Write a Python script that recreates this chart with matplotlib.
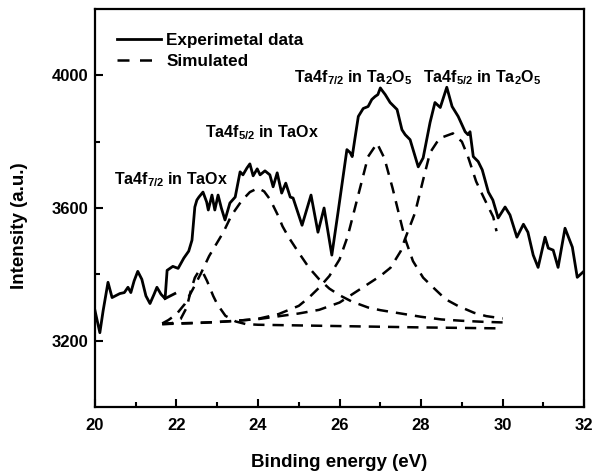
import numpy as np
import matplotlib
matplotlib.use('Agg')
import matplotlib.pyplot as plt

plt.rcParams['font.family'] = ['Liberation Sans', 'DejaVu Sans']
plt.rcParams['font.weight'] = 'bold'
plt.rcParams['mathtext.fontset'] = 'custom'
plt.rcParams['mathtext.rm'] = 'Liberation Sans:bold'
plt.rcParams['mathtext.default'] = 'rm'

exp_x = [20.00, 20.12, 20.20, 20.32, 20.42, 20.61, 20.72, 20.81, 20.88, 20.96,
         21.05, 21.15, 21.25, 21.35, 21.45, 21.52, 21.62, 21.72, 21.77, 21.91,
         22.04, 22.18, 22.30, 22.38, 22.45, 22.50, 22.55, 22.65, 22.74, 22.78,
         22.87, 22.94, 23.02, 23.10, 23.19, 23.31, 23.44, 23.56, 23.63, 23.73,
         23.80, 23.88, 23.98, 24.05, 24.17, 24.29, 24.37, 24.47, 24.58, 24.68,
         24.79, 24.86, 25.08, 25.30, 25.47, 25.62, 25.81, 25.96, 26.18, 26.26,
         26.31, 26.38, 26.46, 26.58, 26.70, 26.79, 26.87, 26.94, 27.00, 27.04,
         27.12, 27.24, 27.41, 27.53, 27.61, 27.73, 27.93, 28.05, 28.22, 28.34,
         28.47, 28.63, 28.76, 28.91, 29.08, 29.15, 29.20, 29.28, 29.40, 29.50,
         29.65, 29.76, 29.89, 30.06, 30.18, 30.35, 30.51, 30.62, 30.75, 30.87,
         31.04, 31.12, 31.24, 31.36, 31.53, 31.71, 31.83, 32.00]
exp_y = [3291, 3224, 3290, 3376, 3330, 3342, 3345, 3361, 3345, 3380,
         3409, 3385, 3335, 3312, 3340, 3361, 3340, 3327, 3412, 3424,
         3418, 3449, 3470, 3503, 3603, 3624, 3633, 3648, 3618, 3594,
         3639, 3594, 3639, 3600, 3564, 3615, 3633, 3709, 3700, 3721,
         3733, 3697, 3718, 3700, 3712, 3700, 3664, 3706, 3645, 3675,
         3633, 3630, 3548, 3639, 3527, 3600, 3458, 3585, 3776, 3767,
         3755, 3812, 3876, 3900, 3906, 3927, 3936, 3942, 3962, 3955,
         3942, 3918, 3897, 3836, 3821, 3806, 3724, 3751, 3858, 3918,
         3903, 3964, 3906, 3876, 3830, 3821, 3830, 3755, 3740, 3715,
         3648, 3624, 3570, 3603, 3579, 3512, 3551, 3527, 3458, 3421,
         3512, 3479, 3473, 3421, 3539, 3482, 3391, 3410]
# short stray piece of the experimental trace near 21.7 eV
exp_x2 = [21.72, 21.96]
exp_y2 = [3327, 3342]

# Simulated components
c1_x = [21.65, 21.90, 22.10, 22.25, 22.35, 22.45, 22.55, 22.65, 22.75, 22.90,
        23.00, 23.20, 23.45, 23.70, 24.00, 26.00, 28.00, 30.00]
c1_y = [3251, 3253, 3265, 3300, 3350, 3390, 3410, 3405, 3380, 3335,
        3310, 3275, 3258, 3250, 3248, 3244, 3240, 3237]

c2_x = [21.65, 21.80, 22.00, 22.20, 22.40, 22.60, 22.80, 23.15, 23.35, 23.60,
        23.80, 24.00, 24.15, 24.30, 24.50, 24.60, 24.75, 25.00, 25.25, 25.50,
        25.75, 26.00, 26.30, 26.70, 27.00, 27.50, 28.00, 28.50, 29.00, 29.50,
        30.00]
c2_y = [3252, 3262, 3280, 3310, 3355, 3403, 3455, 3527, 3578, 3622,
        3648, 3660, 3650, 3625, 3575, 3545, 3512, 3465, 3420, 3385,
        3357, 3337, 3318, 3300, 3292, 3282, 3272, 3264, 3260, 3257,
        3255]

c3_x = [21.65, 22.50, 23.50, 24.00, 24.50, 25.00, 25.25, 25.50, 25.75, 26.00,
        26.20, 26.45, 26.70, 26.92, 27.10, 27.30, 27.45, 27.60, 27.80, 28.05,
        28.30, 28.60, 28.90, 29.30, 29.60, 30.00]
c3_y = [3250, 3253, 3260, 3266, 3280, 3305, 3330, 3360, 3395, 3445,
        3515, 3635, 3755, 3795, 3750, 3660, 3585, 3510, 3440, 3390,
        3360, 3325, 3305, 3284, 3274, 3267]

c4_x = [21.65, 22.00, 23.00, 24.00, 25.00, 25.50, 26.00, 26.50, 27.00, 27.25,
        27.50, 27.60, 27.85, 28.05, 28.22, 28.45, 28.78, 29.00, 29.15, 29.35,
        29.55, 29.77, 29.85]
c4_y = [3250, 3252, 3256, 3265, 3282, 3293, 3315, 3355, 3395, 3420,
        3470, 3505, 3585, 3685, 3767, 3810, 3825, 3800, 3755, 3680,
        3628, 3573, 3530]

labels = ['Ta4f$_{7/2}$ in TaOx', 'Ta4f$_{5/2}$ in TaOx',
          'Ta4f$_{7/2}$ in Ta$_2$O$_5$', 'Ta4f$_{5/2}$ in Ta$_2$O$_5$']
label_x = [21.86, 24.1, 26.33, 29.5]
label_y = [3685, 3827, 3994, 3994]

fig = plt.figure(figsize=(6.01, 4.73), dpi=100)
ax = fig.add_axes([0.158, 0.1395, 0.814, 0.8415])

dash = (4.5, 3.2)
ax.plot(exp_x, exp_y, color='black', linewidth=2.0, label='Experimetal data')
ax.plot(exp_x2, exp_y2, color='black', linewidth=2.0)
ax.plot(c1_x, c1_y, color='black', linewidth=1.8, linestyle=(0, dash), label='Simulated')
for cx, cy in [(c2_x, c2_y), (c3_x, c3_y), (c4_x, c4_y)]:
    ax.plot(cx, cy, color='black', linewidth=1.8, linestyle=(0, dash))

for t, tx, ty in zip(labels, label_x, label_y):
    ax.text(tx, ty, t, ha='center', va='center', fontsize=11.5, fontweight='bold')

ax.set_xlim(20, 32)
ax.set_ylim(3000, 4200)
ax.set_xticks(np.arange(20, 33, 2))
ax.set_xticks(np.arange(21, 32, 2), minor=True)
ax.set_yticks([3200, 3600, 4000])
ax.set_yticks([3400, 3800], minor=True)
ax.tick_params(which='major', direction='in', length=6, width=1.5, labelsize=12, pad=5)
ax.tick_params(axis='x', which='major', pad=8)
ax.tick_params(which='minor', direction='in', length=3.5, width=1.5)
for s in ax.spines.values():
    s.set_linewidth(1.6)
for lab in ax.get_xticklabels() + ax.get_yticklabels():
    lab.set_fontweight('bold')

ax.set_xlabel('Binding energy (eV)', fontsize=13.5, fontweight='bold', labelpad=15)
ax.set_ylabel('Intensity (a.u.)', fontsize=13.5, fontweight='bold')
ax.yaxis.set_label_coords(-0.137, 0.455)

leg = ax.legend(loc='upper left', frameon=False, fontsize=12.3, handlelength=2.6,
                handletextpad=0.3, borderaxespad=0.3, labelspacing=0.35,
                bbox_to_anchor=(0.02, 0.97))
leg.get_lines()[1].set_linestyle((0, (4.8, 4.2)))
for t in leg.get_texts():
    t.set_fontweight('bold')

fig.savefig('out.png', dpi=100)
